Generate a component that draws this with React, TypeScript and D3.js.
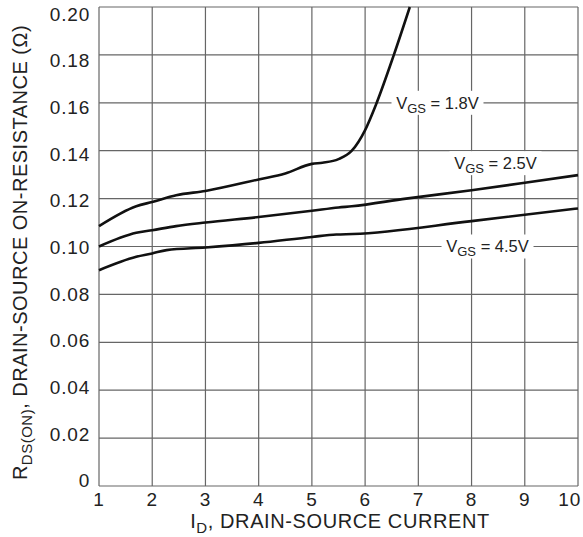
import React from 'react';
import * as d3 from 'd3';

// values
const xTicks = [1, 2, 3, 4, 5, 6, 7, 8, 9, 10];
const yTicks = [0, 0.02, 0.04, 0.06, 0.08, 0.1, 0.12, 0.14, 0.16, 0.18, 0.2];
const yTickLabels = ['0', '0.02', '0.04', '0.06', '0.08', '0.10', '0.12', '0.14', '0.16', '0.18', '0.20'];

const vgs18 = [
  [1, 0.1085], [1.7, 0.1168], [2, 0.1186], [2.45, 0.1214], [3, 0.1232], [4, 0.128],
  [4.5, 0.1305], [5, 0.1345], [5.2, 0.135], [5.5, 0.1365], [5.75, 0.14], [6, 0.1486],
  [6.2, 0.159], [6.54, 0.18], [6.84, 0.2005],
];
const vgs25 = [
  [1, 0.1], [1.7, 0.1057], [2, 0.1068], [2.45, 0.1085], [3, 0.11], [4, 0.1123],
  [5, 0.1149], [5.5, 0.1163], [5.75, 0.1168], [6.77, 0.12], [8, 0.1235], [9, 0.1266], [10, 0.1298],
];
const vgs45 = [
  [1, 0.0901], [1.7, 0.0957], [2, 0.0971], [2.27, 0.0985], [3, 0.0996], [4, 0.1015],
  [5, 0.104], [5.46, 0.105], [5.77, 0.1052], [8, 0.1106], [10, 0.1159],
];

const curveLabels = [
  { v: '1.8V', x: 7.36, y: 0.16, w: 92 },
  { v: '2.5V', x: 8.45, y: 0.1348, w: 92 },
  { v: '4.5V', x: 8.3, y: 0.1, w: 92 },
];

const W = 583;
const H = 537;
const margin = { top: 7, right: 5, bottom: 51, left: 99 };

export default function App() {
  const x = d3.scaleLinear().domain([1, 10]).range([margin.left, W - margin.right]);
  const y = d3.scaleLinear().domain([0, 0.2]).range([H - margin.bottom, margin.top]);
  // tick text sits slightly inside the grid ends, as in the original
  const yLab = d3.scaleLinear().domain([0, 0.2]).range([480.5, 14]);

  const line = d3.line<number[]>()
    .x(d => x(d[0]))
    .y(d => y(Math.min(d[1], 0.2)))
    .curve(d3.curveMonotoneX);

  const font = '"Liberation Sans", Arial, sans-serif';
  const grid = '#666';

  return (
    <div style={{ position: 'absolute', left: 0, top: 0 }}>
      <svg width={W} height={H} style={{ display: 'block', background: '#fff' }} fontFamily={font}>
        <g>
          {xTicks.map(t => (
            <line key={'gx' + t} x1={x(t)} x2={x(t)} y1={y(0)} y2={y(0.2)} stroke={grid} strokeWidth={1.2} />
          ))}
          {yTicks.map(t => (
            <line key={'gy' + t} x1={x(1)} x2={x(10)} y1={y(t)} y2={y(t)} stroke={grid} strokeWidth={1.2} />
          ))}
        </g>

        <g fill="none" stroke="#111" strokeWidth={2.6} strokeLinejoin="round">
          <path d={line(vgs18) || ''} />
          <path d={line(vgs25) || ''} />
          <path d={line(vgs45) || ''} />
        </g>

        {curveLabels.map(l => (
          <g key={l.v} transform={`translate(${x(l.x)},${y(l.y)})`}>
            <rect x={-l.w / 2} y={-12} width={l.w} height={24} fill="#fff" />
            <text textAnchor="middle" dy="0.35em" fontSize={16.5} fill="#222">
              V<tspan fontSize={13} dy={4}>GS</tspan><tspan dy={-4}>{' = ' + l.v}</tspan>
            </text>
          </g>
        ))}

        <g fontSize={19} fill="#222" letterSpacing={0.8}>
          {yTicks.map((t, i) => (
            <text key={'ty' + t} x={margin.left - 9} y={yLab(t)} dy="0.36em" textAnchor="end">{yTickLabels[i]}</text>
          ))}
          {xTicks.map((t, i) => (
            <text key={'tx' + t} x={i === xTicks.length - 1 ? W - 2 : x(t)} y={H - margin.bottom + 20}
              textAnchor={i === xTicks.length - 1 ? 'end' : 'middle'}>{t}</text>
          ))}
        </g>

        <text x={340} y={528} textAnchor="middle" fontSize={20} letterSpacing={0.6} fill="#222">
          I<tspan fontSize={15} dy={5}>D</tspan><tspan dy={-5}>, DRAIN-SOURCE CURRENT</tspan>
        </text>

        <text transform={`translate(27,252.5) rotate(-90)`} textAnchor="middle" fontSize={20} letterSpacing={0.5} fill="#222">
          R<tspan fontSize={15} dy={5}>DS(ON)</tspan><tspan dy={-5}>, DRAIN-SOURCE ON-RESISTANCE (Ω)</tspan>
        </text>
      </svg>
    </div>
  );
}
